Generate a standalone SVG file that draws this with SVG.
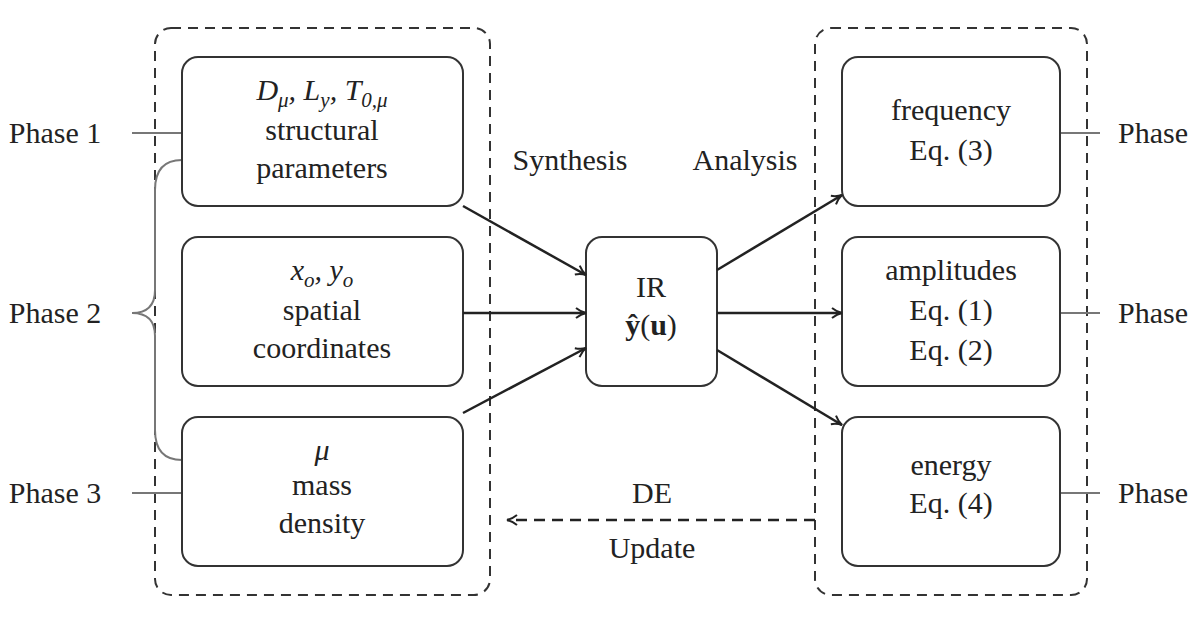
<svg xmlns="http://www.w3.org/2000/svg" width="1200" height="623" viewBox="0 0 1200 623">
<defs>
<style>
text{font-family:"Liberation Serif","DejaVu Serif",serif;font-size:30px;fill:#222;text-anchor:middle}
.m{font-style:italic}
.s{font-size:21px}
.node{fill:#fff;stroke:#333;stroke-width:2}
.grp{fill:none;stroke:#333;stroke-width:2;stroke-dasharray:10 7}
.ln{fill:none;stroke:#222;stroke-width:2.5}
.th{fill:none;stroke:#777;stroke-width:2}
</style>
<marker id="a" viewBox="0 0 12 12" refX="11" refY="6" markerWidth="12" markerHeight="12" markerUnits="userSpaceOnUse" orient="auto"><path d="M1,1 Q6,5 11,6 Q6,7 1,11" fill="none" stroke="#222" stroke-width="2"/></marker>
</defs>
<rect width="1200" height="623" fill="#fff"/>
<rect class="grp" x="155" y="28" width="335" height="567" rx="16"/>
<rect class="grp" x="815" y="28" width="272" height="567" rx="16"/>
<g id="phases">
<text x="55" y="143">Phase 1</text>
<text x="55" y="323">Phase 2</text>
<text x="55" y="503">Phase 3</text>
<text x="1118" y="143" style="text-anchor:start">Phase</text>
<text x="1118" y="323" style="text-anchor:start">Phase</text>
<text x="1118" y="503" style="text-anchor:start">Phase</text>
<path class="th" d="M132,133H182M132,493H182M1060,133H1100M1060,313H1100M1060,493H1100"/>
<path class="th" d="M182,160 Q155,160 155,190 V290 Q155,313 132,313 Q155,313 155,336 V430 Q155,460 182,460"/>
</g>
<g id="n1"><rect class="node" x="182" y="57" width="281" height="149" rx="16"/>
<text x="322" y="100" class="m">D<tspan class="s" dy="7">μ</tspan><tspan dy="-7">, L</tspan><tspan class="s" dy="7">y</tspan><tspan dy="-7">, T</tspan><tspan class="s" dy="7">0,μ</tspan></text>
<text x="322" y="140">structural</text><text x="322" y="178">parameters</text></g>
<g id="n2"><rect class="node" x="182" y="237" width="281" height="149" rx="16"/>
<text x="322" y="280" class="m">x<tspan class="s" dy="7">o</tspan><tspan dy="-7">, y</tspan><tspan class="s" dy="7">o</tspan></text>
<text x="322" y="320">spatial</text><text x="322" y="358">coordinates</text></g>
<g id="n3"><rect class="node" x="182" y="417" width="281" height="149" rx="16"/>
<text x="322" y="460" class="m">μ</text>
<text x="322" y="495">mass</text><text x="322" y="533">density</text></g>
<g id="ir"><rect class="node" x="586" y="237" width="131" height="149" rx="16"/>
<text x="651" y="297">IR</text>
<text x="651" y="335" style="font-weight:bold">ŷ<tspan style="font-weight:normal">(</tspan>u<tspan style="font-weight:normal">)</tspan></text></g>
<g id="r1"><rect class="node" x="842" y="57" width="218" height="149" rx="16"/>
<text x="951" y="120">frequency</text><text x="951" y="160">Eq. (3)</text></g>
<g id="r2"><rect class="node" x="842" y="237" width="218" height="149" rx="16"/>
<text x="951" y="280">amplitudes</text><text x="951" y="320">Eq. (1)</text><text x="951" y="360">Eq. (2)</text></g>
<g id="r3"><rect class="node" x="842" y="417" width="218" height="149" rx="16"/>
<text x="951" y="475">energy</text><text x="951" y="513">Eq. (4)</text></g>
<g id="connectors">
<path class="ln" marker-end="url(#a)" d="M463,206L586,275"/>
<path class="ln" marker-end="url(#a)" d="M463,313L586,313"/>
<path class="ln" marker-end="url(#a)" d="M463,413L586,348"/>
<path class="ln" marker-end="url(#a)" d="M717,270L842,195"/>
<path class="ln" marker-end="url(#a)" d="M717,313L842,313"/>
<path class="ln" marker-end="url(#a)" d="M717,350L842,425"/>
<path class="ln" marker-end="url(#a)" stroke-dasharray="11 7" d="M815,520L507,520"/>
</g>
<text x="570" y="170">Synthesis</text>
<text x="745" y="170">Analysis</text>
<text x="652" y="503">DE</text>
<text x="652" y="558">Update</text>
</svg>
